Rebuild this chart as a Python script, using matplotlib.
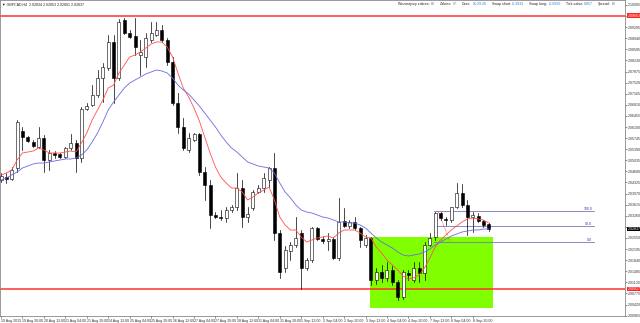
import numpy as np
import matplotlib.pyplot as plt
from matplotlib.patches import Rectangle
import matplotlib.transforms as mtransforms

plt.rcParams['font.family'] = ['Liberation Sans', 'DejaVu Sans']

# GBPCAD H4 candles, prices in points (1e-5)
opens = [204405, 204501, 204437, 204789, 205973, 205781, 205621, 205461, 205749, 205045,
         205269, 205237, 205141, 205429, 205589, 205109, 206677, 206805, 207125, 207669,
         207989, 208821, 207669, 209525, 209109, 209013, 208405, 208341, 208885, 209045,
         209205, 208885, 208181, 206869, 206101, 205365, 205685, 205877, 204661, 204245,
         203285, 203221, 203189, 203445, 203541, 204149, 203221, 203509, 204021, 204149,
         204405, 204789, 202709, 201589, 202133, 202325, 202709, 201589, 201845, 202869,
         202517, 202453, 202517, 201909, 203093, 202933, 203061, 202869, 202325, 202549,
         201205, 201461, 201269, 201525, 201141, 200661, 201429, 201205, 201589, 201429,
         202325, 202581, 203349, 203157, 203125, 203541, 203989, 203605, 203221, 203253,
         203093, 202997]
highs = [204629, 204629, 204821, 206325, 206101, 205813, 205685, 206101, 205845, 205365,
         205333, 205269, 205461, 205877, 205685, 206741, 206869, 207445, 207925, 208149,
         209045, 209045, 209557, 209589, 209205, 209589, 208885, 209109, 209461, 209461,
         209365, 208949, 208341, 207189, 206389, 205909, 205909, 205909, 204821, 204405,
         203381, 203445, 203541, 203605, 204629, 204405, 203541, 204085, 204245, 204629,
         204821, 205269, 202805, 202293, 202421, 203221, 202805, 201909, 202901, 202901,
         202613, 202709, 202581, 203829, 203509, 203125, 203221, 202901, 202645, 202581,
         201589, 201685, 201781, 201653, 201205, 201525, 201525, 201781, 201781, 202421,
         202709, 203381, 203381, 203221, 203541, 204309, 204277, 203765, 203381, 203349,
         203125, 203029]
lows = [204341, 204309, 204405, 204661, 205365, 205621, 205461, 205429, 204661, 204725,
        205109, 205109, 205109, 205365, 204661, 204981, 206645, 206773, 207061, 206901,
        207925, 206869, 207605, 209077, 208949, 208405, 207765, 208021, 208821, 209013,
        208821, 208085, 206805, 205909, 205365, 205301, 205653, 204565, 203765, 202869,
        203189, 203125, 203061, 203381, 203445, 202901, 203061, 203445, 203989, 204021,
        204181, 202485, 201269, 201461, 201845, 202261, 200917, 201525, 201781, 202485,
        202389, 202165, 201877, 201845, 202901, 202869, 202805, 202261, 202261, 201045,
        201077, 201141, 201173, 201045, 200565, 200597, 201205, 201141, 201141, 201205,
        202293, 202485, 203125, 202965, 203061, 203509, 203541, 202645, 202741, 203061,
        202901, 202773]
closes = [204533, 204437, 204725, 206261, 205781, 205653, 205493, 205749, 205045, 205269,
          205205, 205141, 205429, 205589, 205109, 206677, 206773, 207125, 207669, 208021,
          208821, 207669, 209461, 209109, 208981, 208661, 208501, 208949, 209109, 209205,
          208885, 208181, 206869, 206101, 205429, 205749, 205877, 204661, 204245, 203285,
          203221, 203189, 203445, 203541, 204149, 203221, 203317, 204021, 204149, 204469,
          204789, 202709, 201461, 202165, 202325, 202549, 201589, 201845, 202869, 202517,
          202453, 202517, 201909, 203061, 202933, 203061, 202869, 202485, 202549, 201205,
          201461, 201269, 201525, 201141, 200661, 201461, 201365, 201589, 201429, 202325,
          202549, 203349, 203189, 203125, 203541, 203989, 203605, 203221, 203285, 203093,
          202965, 202837]

ma_fast = [204565, 204629, 204725, 205045, 205269, 205301, 205333, 205429, 205365, 205269,
           205269, 205269, 205301, 205333, 205301, 205589, 205909, 206325, 206645, 206965,
           207349, 207445, 207829, 208085, 208341, 208405, 208501, 208629, 208757, 208821,
           208821, 208661, 208341, 207829, 207349, 207061, 206709, 206293, 205781, 205269,
           204821, 204501, 204309, 204149, 204149, 204021, 203765, 203861, 203989, 204085,
           204181, 203765, 203221, 202965, 202805, 202805, 202581, 202421, 202485, 202549,
           202581, 202613, 202549, 202709, 202805, 202805, 202805, 202709, 202581, 202549,
           202261, 202069, 201845, 201685, 201525, 201333, 201237, 201269, 201365, 201589,
           201909, 202261, 202485, 202645, 202805, 202933, 203061, 203157, 203189, 203157,
           203125, 203029]
ma_slow = [204405, 204469, 204565, 204661, 204789, 204853, 204917, 204949, 204949, 204981,
           205013, 205045, 205077, 205077, 205109, 205205, 205365, 205621, 205909, 206261,
           206645, 206901, 207125, 207349, 207509, 207605, 207701, 207797, 207861, 207925,
           207893, 207829, 207669, 207445, 207285, 207157, 206965, 206773, 206549, 206325,
           206101, 205845, 205621, 205429, 205301, 205141, 204981, 204917, 204853, 204821,
           204789, 204629, 204309, 204021, 203829, 203605, 203445, 203381, 203349, 203285,
           203221, 203189, 203125, 203061, 203061, 203029, 203029, 202965, 202869, 202709,
           202549, 202421, 202325, 202229, 202101, 202005, 201973, 202005, 202037, 202101,
           202197, 202325, 202421, 202517, 202613, 202677, 202741, 202773, 202805, 202805,
           202837, 202837]

date_labels = ["19 Aug 2015", "19 Aug 20:00", "20 Aug 12:00", "21 Aug 04:00", "21 Aug 20:00",
               "24 Aug 12:00", "25 Aug 04:00", "25 Aug 20:00", "26 Aug 12:00", "27 Aug 04:00",
               "27 Aug 20:00", "28 Aug 12:00", "31 Aug 04:00", "31 Aug 20:00", "1 Sep 12:00",
               "2 Sep 04:00", "2 Sep 20:00", "3 Sep 12:00", "4 Sep 04:00", "4 Sep 20:00",
               "7 Sep 12:00", "8 Sep 04:00", "8 Sep 20:00"]

resist = 209663
support = 200917
zone_top, zone_bottom = 202581, 200309
zone_start, zone_end = 68.8, 91.8
fib_high, fib_low = 203413, 202421
fib_start, fib_end = 80.8, 110.6

info_labels = ["Wczorajszy zakres:", "Zakres:", "Czas:", "Swap short:", "Swap long:",
               "Tick value:", "Spread:"]
info_values = ["60", "57", "01:29:26", "-0.3932", "-0.0950", "0.857", "65"]

o = np.array(opens) / 1e5
h = np.array(highs) / 1e5
l = np.array(lows) / 1e5
c = np.array(closes) / 1e5
x = np.arange(len(o))

fs = 2.6  # tiny terminal font

fig = plt.figure(figsize=(6.4, 3.23), dpi=100)
ax = fig.add_axes([0, 7 / 323, 625 / 640, 316 / 323])
ax.set_xlim(-0.19, 116.4)
ax.set_ylim(2.00053, 2.10165)

# zone box
ax.add_patch(Rectangle((zone_start, zone_bottom / 1e5), zone_end - zone_start,
                       (zone_top - zone_bottom) / 1e5, facecolor='#80ff00',
                       edgecolor='none', zorder=0))

# horizontal levels
ax.axhline(resist / 1e5, color='#ff3030', lw=1.1, zorder=1)
ax.axhline(support / 1e5, color='#ff3030', lw=1.1, zorder=1)

# fibo
fib_levels = [(fib_high, "100.0"), ((fib_high + fib_low) / 2, "50.0"), (fib_low, "0.0")]
for val, lab in fib_levels:
    ax.plot([fib_start, fib_end], [val / 1e5] * 2, color='#7777bb', lw=0.6, zorder=2)
    ax.text(fib_end - 0.3, val / 1e5 + 0.0001, lab, fontsize=fs, color='#4040a0',
            ha='right', va='bottom')
ax.plot([81.5, 83.8], [fib_high / 1e5, fib_low / 1e5], color='#ff3030', lw=0.5,
        ls=(0, (1, 1)), zorder=2)

# candles
w = 0.56
for i in x:
    ax.plot([i, i], [l[i], h[i]], color='black', lw=0.5, zorder=3)
    bottom = min(o[i], c[i])
    height = max(abs(c[i] - o[i]), 0.00008)
    face = 'white' if c[i] >= o[i] else 'black'
    ax.add_patch(Rectangle((i - w / 2, bottom), w, height, facecolor=face,
                           edgecolor='black', lw=0.4, zorder=4))

# moving averages
ax.plot(x, np.array(ma_fast) / 1e5, color='#ff5050', lw=0.6, zorder=5)
ax.plot(x, np.array(ma_slow) / 1e5, color='#6a6ae0', lw=0.6, zorder=5)

# price axis; labels under the price tags are covered in the terminal, so leave them out
tags = [(resist, '#ff2020'), (support, '#ff2020'), (closes[-1], 'black')]
yt = 2.10005 - 0.00355 * np.arange(29)
ylabs = []
for v in yt:
    hidden = any(abs(v - t / 1e5) < 0.0012 for t, _ in tags)
    ylabs.append("" if hidden else f"{v:.5f}")
ax.yaxis.tick_right()
ax.set_yticks(yt)
ax.set_yticklabels(ylabs)
ax.tick_params(axis='y', labelsize=fs, length=1.2, width=0.4, pad=0.6, colors='#333333')

ax.set_xticks(np.arange(len(date_labels)) * 4)
ax.set_xticklabels(date_labels)
ax.tick_params(axis='x', labelsize=fs, length=1.5, width=0.4, pad=0.5, colors='#333333')
for t in ax.get_xticklabels():
    t.set_ha('left')

for s in ax.spines.values():
    s.set_color('#888888')
    s.set_linewidth(0.6)

# price tags
tr = mtransforms.blended_transform_factory(ax.transAxes, ax.transData)
for val, col in tags:
    ax.text(1.004, val / 1e5, f"{val / 1e5:.5f}", transform=tr, fontsize=fs, color='white',
            ha='left', va='center', clip_on=False,
            bbox=dict(boxstyle='square,pad=0.12', facecolor=col, edgecolor='none'))

# header
ax.text(0.004, 0.993, "\u25bc GBPCAD,H4  2.02834 2.02853 2.02801 2.02837", transform=ax.transAxes,
        fontsize=fs, color='#222222', ha='left', va='top')

renderer = fig.canvas.get_renderer()
ytop = 1 - 4 / 323
cur = 398.0
for lab, val in zip(info_labels, info_values):
    t = fig.text(cur / 640, ytop, lab, fontsize=fs, color='#222222', ha='left', va='center')
    bb = t.get_window_extent(renderer)
    t2 = fig.text((bb.x1 + 1.2) / 640, ytop, val, fontsize=fs, color='#3a7fd0',
                  ha='left', va='center')
    cur = t2.get_window_extent(renderer).x1 + 5

fig.savefig("out.png", dpi=100)
